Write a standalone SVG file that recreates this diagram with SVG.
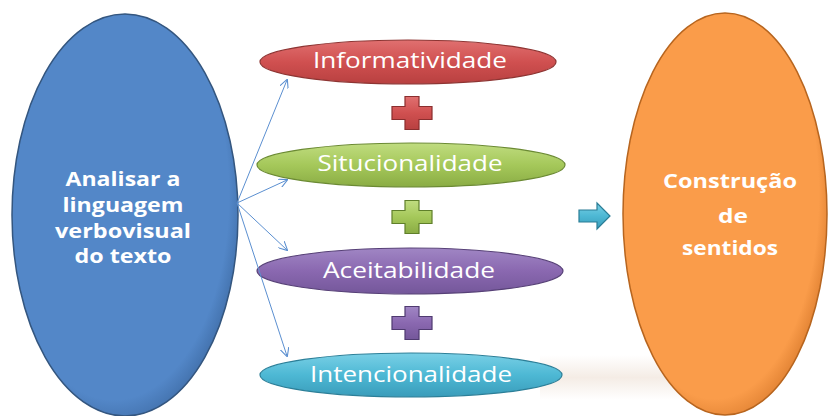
<svg xmlns="http://www.w3.org/2000/svg" width="829" height="416" viewBox="0 0 829 416">
<style>
.big{font-family:"Open Sans","Noto Sans","DejaVu Sans",sans-serif;font-weight:bold;font-size:20px;fill:#ffffff;text-anchor:middle}
.lbl{font-family:"Open Sans","Noto Sans","DejaVu Sans",sans-serif;font-size:21px;fill:#ffffff;text-anchor:middle}
.conn{stroke:#5b8fd0;stroke-width:1;fill:none;marker-end:url(#ah)}
</style>
<defs>
<marker id="ah" viewBox="0 0 10 10" refX="9" refY="5" markerWidth="9" markerHeight="9" orient="auto" markerUnits="userSpaceOnUse">
<path d="M0,0 L10,5 L0,10" fill="none" stroke="#5b8fd0" stroke-width="1.2"/>
</marker>
<radialGradient id="gBlue" cx="0.45" cy="0.45" r="0.6">
<stop offset="0.85" stop-color="#5387c8"/><stop offset="1" stop-color="#3d6aa3"/>
</radialGradient>
<radialGradient id="gOrange" cx="0.45" cy="0.45" r="0.6">
<stop offset="0.85" stop-color="#fa9c4a"/><stop offset="1" stop-color="#d97a2c"/>
</radialGradient>
<linearGradient id="gRed" x1="0" y1="0" x2="0" y2="1">
<stop offset="0" stop-color="#e07070"/><stop offset="0.5" stop-color="#d05050"/><stop offset="1" stop-color="#b84040"/>
</linearGradient>
<linearGradient id="gGreen" x1="0" y1="0" x2="0" y2="1">
<stop offset="0" stop-color="#c0dc80"/><stop offset="0.5" stop-color="#a5c85a"/><stop offset="1" stop-color="#8aac44"/>
</linearGradient>
<linearGradient id="gPurple" x1="0" y1="0" x2="0" y2="1">
<stop offset="0" stop-color="#a086c4"/><stop offset="0.5" stop-color="#8a68b0"/><stop offset="1" stop-color="#74579a"/>
</linearGradient>
<linearGradient id="gCyan" x1="0" y1="0" x2="0" y2="1">
<stop offset="0" stop-color="#7ad0e6"/><stop offset="0.5" stop-color="#4db8d4"/><stop offset="1" stop-color="#3a9cba"/>
</linearGradient>
<linearGradient id="gRefl" x1="0" y1="0" x2="0" y2="1">
<stop offset="0" stop-color="#f0e4da" stop-opacity="0"/><stop offset="0.5" stop-color="#f0e4da" stop-opacity="0.7"/><stop offset="1" stop-color="#f0e4da" stop-opacity="0"/>
</linearGradient>
<path id="plus" d="M-7,-16.5 H7 V-6.5 H20 V6.5 H7 V16.5 H-7 V6.5 H-20 V-6.5 H-7 Z"/>
</defs>
<rect width="829" height="416" fill="#ffffff"/>
<rect x="540" y="355" width="200" height="45" fill="url(#gRefl)"/>

<g id="source">
<ellipse cx="125" cy="215" rx="113" ry="201" fill="url(#gBlue)" stroke="#34567f" stroke-width="1.5"/>
<text class="big" x="123" y="186" textLength="115" lengthAdjust="spacingAndGlyphs">Analisar a</text>
<text class="big" x="123" y="212" textLength="121" lengthAdjust="spacingAndGlyphs">linguagem</text>
<text class="big" x="123" y="238" textLength="136" lengthAdjust="spacingAndGlyphs">verbovisual</text>
<text class="big" x="123" y="263" textLength="97" lengthAdjust="spacingAndGlyphs">do texto</text>
</g>

<g id="informatividade">
<ellipse cx="408" cy="62" rx="148" ry="22" fill="url(#gRed)" stroke="#8e3533" stroke-width="1.2"/>
<text class="lbl" x="410" y="68" textLength="194" lengthAdjust="spacingAndGlyphs">Informatividade</text>
</g>
<g id="plus1"><use href="#plus" x="412" y="113" fill="url(#gRed)" stroke="#8a2e2e" stroke-width="1.2"/></g>

<g id="situcionalidade">
<ellipse cx="411" cy="165" rx="154" ry="22" fill="url(#gGreen)" stroke="#6b8a33" stroke-width="1.2"/>
<text class="lbl" x="410" y="171" textLength="185" lengthAdjust="spacingAndGlyphs">Situcionalidade</text>
</g>
<g id="plus2"><use href="#plus" x="412" y="217" fill="url(#gGreen)" stroke="#5f7f2a" stroke-width="1.2"/></g>

<g id="aceitabilidade">
<ellipse cx="410" cy="271" rx="153" ry="23" fill="url(#gPurple)" stroke="#574177" stroke-width="1.2"/>
<text class="lbl" x="409" y="278" textLength="172" lengthAdjust="spacingAndGlyphs">Aceitabilidade</text>
</g>
<g id="plus3"><use href="#plus" x="412" y="323" fill="url(#gPurple)" stroke="#4f3a70" stroke-width="1.2"/></g>

<g id="intencionalidade">
<ellipse cx="411" cy="375" rx="151" ry="22" fill="url(#gCyan)" stroke="#2c7f98" stroke-width="1.2"/>
<text class="lbl" x="411" y="382" textLength="202" lengthAdjust="spacingAndGlyphs">Intencionalidade</text>
</g>

<g id="arrow">
<path d="M579,210 H597 V203 L610,216 L597,229 V222 H579 Z" fill="url(#gCyan)" stroke="#2a7d96" stroke-width="1.2"/>
</g>

<g id="target">
<ellipse cx="725" cy="214" rx="102" ry="201" fill="url(#gOrange)" stroke="#b7651f" stroke-width="1.5"/>
<text class="big" x="730" y="188" textLength="134" lengthAdjust="spacingAndGlyphs">Construção</text>
<text class="big" x="733" y="223" textLength="30" lengthAdjust="spacingAndGlyphs">de</text>
<text class="big" x="730" y="255" textLength="96" lengthAdjust="spacingAndGlyphs">sentidos</text>
</g>

<g id="connectors">
<line class="conn" x1="237" y1="203" x2="287" y2="80"/>
<line class="conn" x1="237" y1="203" x2="287" y2="180"/>
<line class="conn" x1="237" y1="203" x2="287" y2="250"/>
<line class="conn" x1="237" y1="203" x2="287" y2="356"/>
</g>
</svg>
